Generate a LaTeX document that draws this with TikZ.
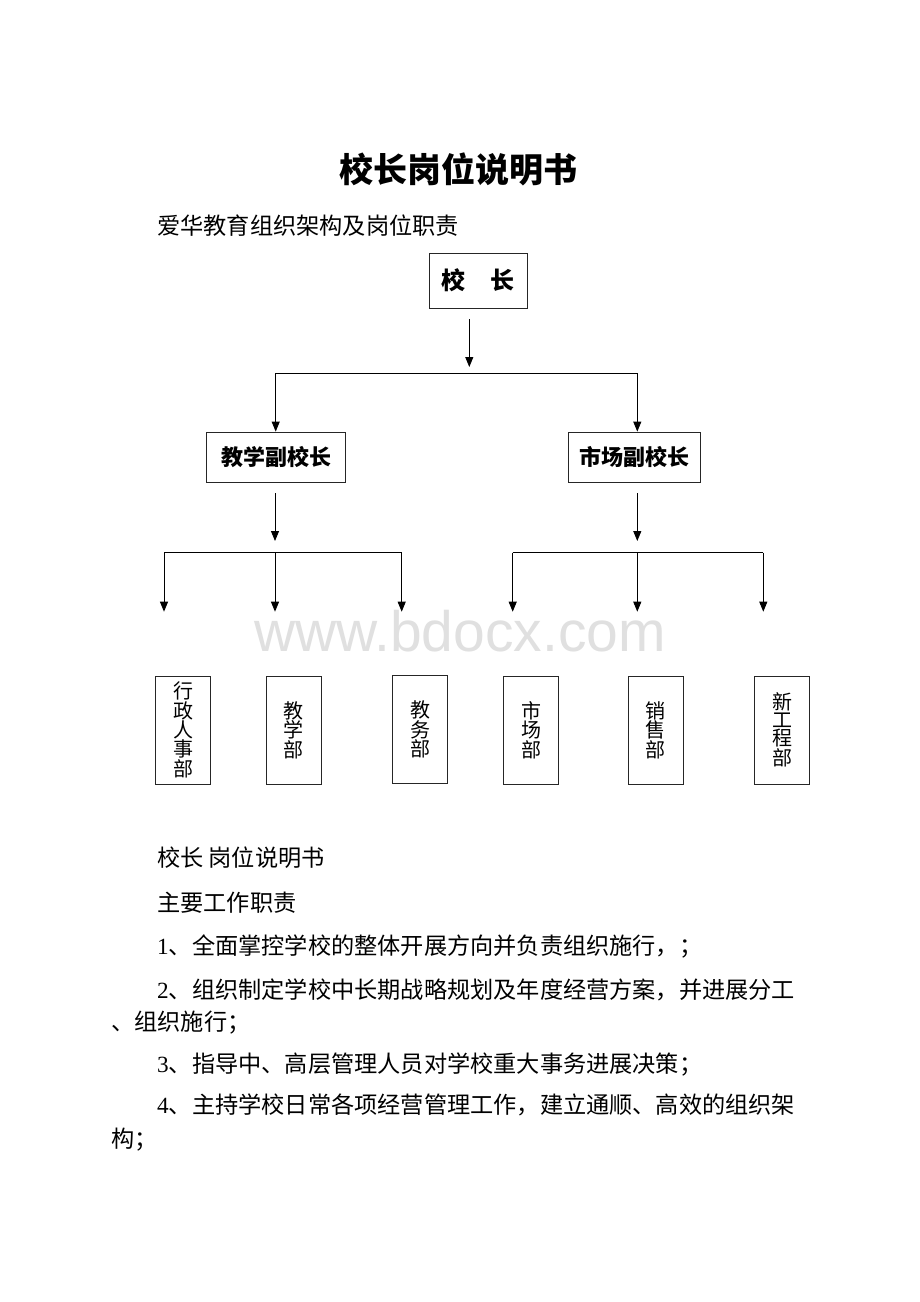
\documentclass[tikz,border=0pt]{standalone}
\usepackage{fontspec}
\setmainfont{Liberation Serif}
\newfontfamily\cjk{Noto Sans CJK SC}
\newfontfamily\wmfont{Liberation Sans}
\usetikzlibrary{arrows, arrows.meta}

\tikzset{
  box/.style={draw=black!85, line width=0.8pt, inner sep=0pt, align=center},
  headbox/.style={box, font=\cjk\bfseries\fontsize{22}{22}\selectfont},
  deptbox/.style={box, minimum width=55pt, minimum height=108pt, font=\cjk\fontsize{20}{18}\selectfont},
  conn/.style={line width=0.9pt},
  arr/.style={conn, -{Triangle[length=10pt,width=8pt]}},
  body/.style={anchor=west, inner sep=0pt, font=\cjk\fontsize{23.2}{23.2}\selectfont},
}

\begin{document}
\begin{tikzpicture}[x=1pt, y=-1pt]
\useasboundingbox (0,0) rectangle (920,1302);
\fill[white] (0,0) rectangle (920,1302);
% title
\node[font=\cjk\bfseries\fontsize{34}{34}\selectfont] (title) at (458.5,169) {校长岗位说明书};
\node[body] (sub) at (157,226) {爱华教育组织架构及岗位职责};
% watermark
\node[font=\wmfont\fontsize{57}{57}\selectfont, text=black!12, anchor=base, inner sep=0pt] (wm) at (460,651) {www.bdocx.com};
% boxes
\node[headbox, minimum width=98pt, minimum height=55pt, font=\cjk\bfseries\fontsize{24}{24}\selectfont] (xz) at (478,280.5) {校\hspace{25pt}长};
\node[headbox, minimum width=139pt, minimum height=50pt] (jx) at (276.3,457) {教学副校长};
\node[headbox, minimum width=132pt, minimum height=50pt] (sc) at (634.2,457) {市场副校长};
\node[deptbox] (xzrs) at (183.2,730) {行\\政\\人\\事\\部};
\node[deptbox] (jxb) at (293.8,730) {教\\学\\部};
\node[deptbox] (jwb) at (420,729.5) {教\\务\\部};
\node[deptbox] (scb) at (531.3,730) {市\\场\\部};
\node[deptbox] (xsb) at (655.5,730) {销\\售\\部};
\node[deptbox] (xgcb) at (782,730) {新\\工\\程\\部};
% president to vice presidents
\coordinate (xzout) at (469.3,319);
\coordinate (xzin) at (469.3,367);
\draw[arr] (xzout) -- (xzin);
\coordinate (busL) at (275.7,373);
\coordinate (busR) at (637.3,373);
\draw[conn] (busL) -- (busR);
\draw[arr] (busL) -- (busL |- jx.north);
\draw[arr] (busR) -- (busR |- sc.north);
% teaching side
\coordinate (jxout) at (275,493);
\coordinate (jxin) at (275,541);
\draw[arr] (jxout) -- (jxin);
\coordinate (jbL) at (164,552.7);
\coordinate (jbR) at (401.7,552.7);
\draw[conn] (jbL) -- (jbR);
\foreach \x [count=\i] in {164,275,401.7} {
  \coordinate (ja\i) at (\x,552.7);
  \coordinate (jt\i) at (\x,611.7);
  \draw[arr] (ja\i) -- (jt\i);
}
% market side
\coordinate (scout) at (637.3,493);
\coordinate (scin) at (637.3,541);
\draw[arr] (scout) -- (scin);
\coordinate (sbL) at (512.7,552.7);
\coordinate (sbR) at (763.3,552.7);
\draw[conn] (sbL) -- (sbR);
\foreach \x [count=\i] in {512.7,637.3,763.3} {
  \coordinate (sa\i) at (\x,552.7);
  \coordinate (st\i) at (\x,611.7);
  \draw[arr] (sa\i) -- (st\i);
}
% duties
\node[body] (l0) at (157,858) {校长 岗位说明书};
\node[body] (l1) at (157,903) {主要工作职责};
\node[body] (l2) at (157,946.5) {{\rmfamily 1}、全面掌控学校的整体开展方向并负责组织施行，；};
\node[body] (l3) at (157,990) {{\rmfamily 2}、组织制定学校中长期战略规划及年度经营方案，并进展分工};
\node[body] (l3b) at (111,1023) {、组织施行；};
\node[body] (l4) at (157,1065) {{\rmfamily 3}、指导中、高层管理人员对学校重大事务进展决策；};
\node[body] (l5) at (157,1105) {{\rmfamily 4}、主持学校日常各项经营管理工作，建立通顺、高效的组织架};
\node[body] (l5b) at (111,1140) {构；};
\end{tikzpicture}
\end{document}
